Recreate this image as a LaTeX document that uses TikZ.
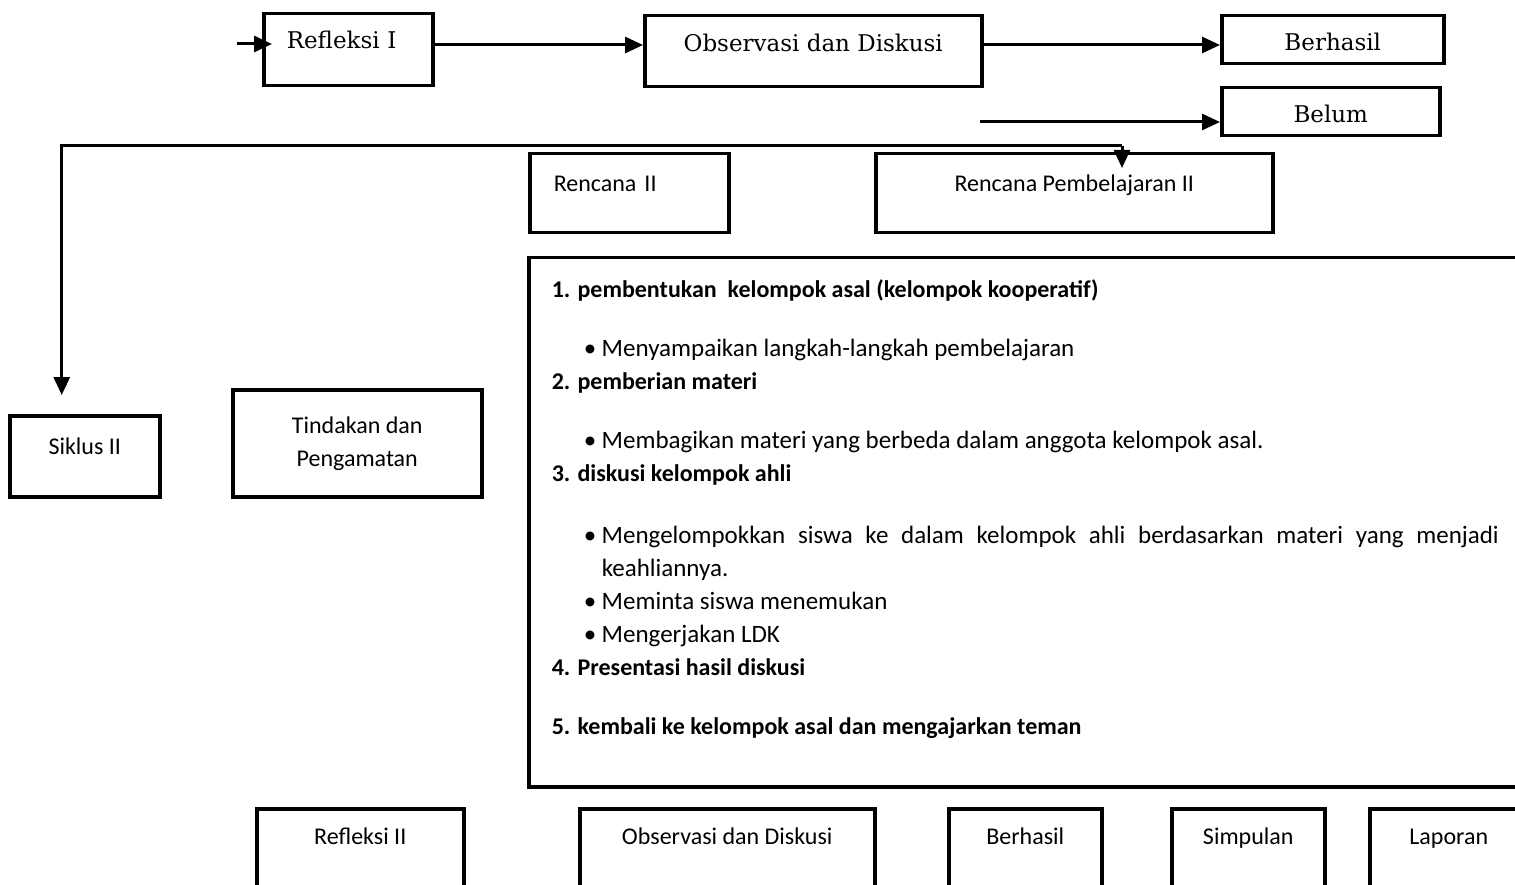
\documentclass[tikz,border=0pt]{standalone}
\usepackage{fontspec}
\newfontfamily\judul{DejaVu Serif}
\newfontfamily\isi{Carlito}
\usetikzlibrary{arrows.meta}
\tikzstyle{kotakserif} = [rectangle, draw, line width=3.5pt, inner sep=0pt, anchor=north west, font=\judul\fontsize{23}{28}\selectfont]
\tikzstyle{kotak} = [rectangle, draw, line width=3.5pt, inner sep=0pt, anchor=north west, font=\isi\fontsize{24}{33}\selectfont]
\tikzstyle{arrow} = [line width=3pt,->,>={Triangle[length=18pt,width=16pt]}]
\newcommand\butir{\hspace*{32pt}\makebox[18pt][l]{\fontsize{25}{33}\selectfont\textbullet}\fontsize{25}{33}\selectfont}

\begin{document}
\begin{tikzpicture}[x=1pt,y=-1pt]
            \path[use as bounding box, clip] (0,0) rectangle (1515,885);

            \node [kotakserif, text width=123pt, inner xsep=23pt, align=left, text height=35pt, text depth=37pt] at (262,12) (refl1) {Refleksi I};
            \node [kotakserif, minimum width=337pt, text height=36pt, text depth=35pt] at (643,14) (obs1) {Observasi dan Diskusi};
            \node [kotakserif, minimum width=222pt, text height=35pt, text depth=13pt] at (1220,14) (hasil1) {Berhasil};
            \node [kotakserif, minimum width=218pt, text height=35pt, text depth=13pt] at (1220,86) (belum) {Belum};

            \node [kotak, text width=151pt, inner xsep=24pt, align=left, text height=38pt, text depth=41pt] at (528,152) (rencana) {Rencana II};
            \node [kotak, minimum width=397pt, text height=38pt, text depth=41pt] at (874,152) (rpp) {Rencana Pembelajaran II};
            \node [kotak, minimum width=150pt, text height=39pt, text depth=42pt] at (8,414) (siklus) {Siklus II};
            \node [kotak, minimum width=249pt, minimum height=107pt, align=center] at (231,388) (tindakan) {Tindakan dan\\Pengamatan};

            \node [kotak, inner xsep=23pt, text height=40pt, text depth=489pt] at (527,256) (langkah) {\parbox[t]{1000pt}{%
                \textbf{1. pembentukan\ \ kelompok asal (kelompok kooperatif)}\\[26pt]
                {\butir Menyampaikan langkah-langkah pembelajaran}\\
                \textbf{2. pemberian materi}\\[26pt]
                {\butir Membagikan materi yang berbeda dalam anggota kelompok asal.}\\
                \textbf{3. diskusi kelompok ahli}\\[29pt]
                {\butir \makebox[897pt][s]{Mengelompokkan siswa ke dalam kelompok ahli berdasarkan materi yang menjadi}}\\
                {\fontsize{25}{33}\selectfont\hspace*{50pt}keahliannya.}\\
                {\butir Meminta siswa menemukan}\\
                {\butir Mengerjakan LDK}\\
                \textbf{4. Presentasi hasil diskusi}\\[26pt]
                \textbf{5. kembali ke kelompok asal dan mengajarkan teman}}};

            \node [kotak, minimum width=207pt, text height=36pt, text depth=100pt] at (255,807) (refl2) {Refleksi II};
            \node [kotak, minimum width=295pt, text height=36pt, text depth=100pt] at (578,807) (obs2) {Observasi dan Diskusi};
            \node [kotak, minimum width=153pt, text height=36pt, text depth=100pt] at (947,807) (hasil2) {Berhasil};
            \node [kotak, minimum width=153pt, text height=36pt, text depth=100pt] at (1170,807) (simpulan) {Simpulan};
            \node [kotak, minimum width=158pt, text height=36pt, text depth=100pt] at (1368,807) (laporan) {Laporan};

            \coordinate (masuk) at (237,44);
            \coordinate (garis) at (600,45);
            \coordinate (belumawal) at (980,122);
            \coordinate (cabang) at (1122,146);

            \draw [arrow, shorten >=-10pt] (masuk) -- (masuk -| refl1.west);
            \draw [arrow] (refl1.east |- garis) -- (obs1.west |- garis);
            \draw [arrow] (obs1.east |- garis) -- (hasil1.west |- garis);
            \draw [arrow] (belumawal) -- (belumawal -| belum.west);
            \draw [arrow, shorten >=-16pt] (cabang) -- (cabang |- rpp.north);
            \draw [arrow, shorten >=19pt] (cabang) -| ([xshift=-23pt]siklus.north);
            \end{tikzpicture}
\end{document}
